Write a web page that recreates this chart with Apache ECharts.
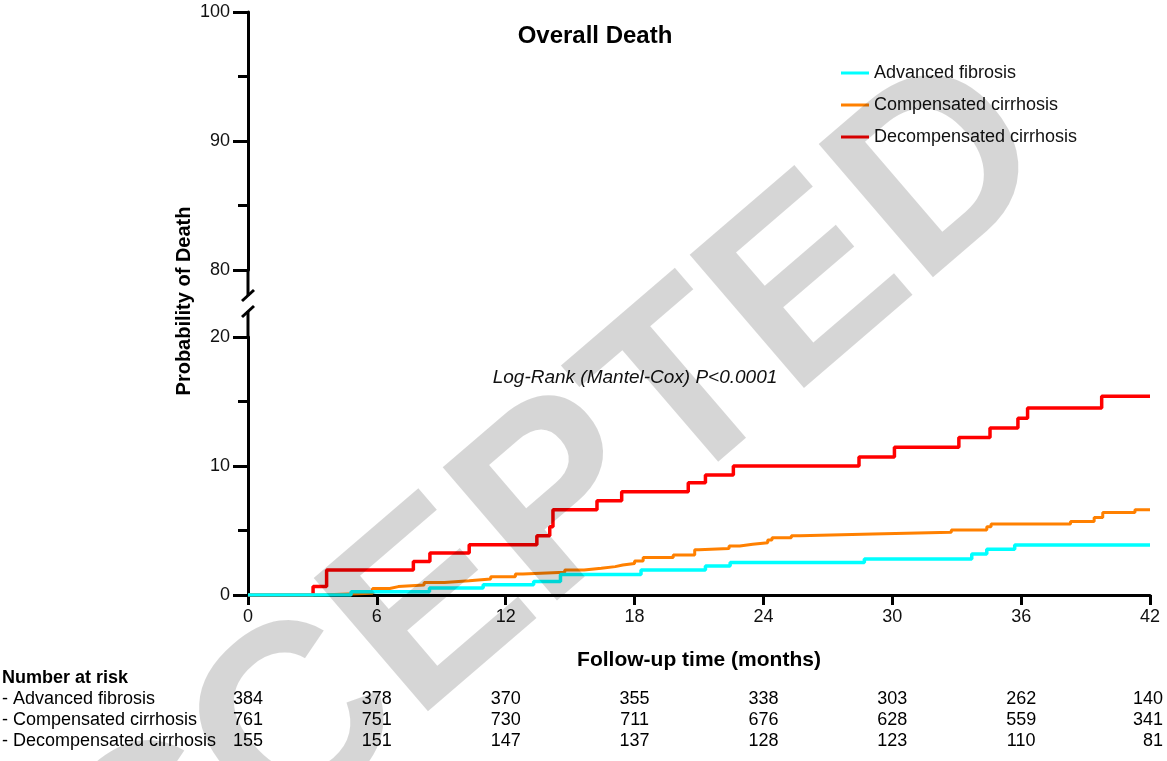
<!DOCTYPE html>
<html>
<head>
<meta charset="utf-8">
<script src="https://cdn.jsdelivr.net/npm/echarts@6/dist/echarts.min.js"></script>
<style>
  html, body { margin: 0; padding: 0; background: #fff; }
  #main { width: 1167px; height: 761px; }
</style>
</head>
<body>
<div id="main"></div>
<script>
// step points [month, cumulative probability of death %]
var advancedFibrosis = [
  [0, 0], [4.8, 0.26], [8.45, 0.55], [10.95, 0.8], [13.3, 1.05], [14.55, 1.58],
  [18.3, 1.94], [21.3, 2.25], [22.45, 2.52], [28.7, 2.8], [33.7, 3.18],
  [34.4, 3.54], [35.7, 3.88], [42, 3.88]
];
var compensatedCirrhosis = [
  [0, 0], [3.3, 0.13], [5.8, 0.5], [6.6, 0.65], [7.0, 0.78], [8.2, 0.96],
  [9.15, 1.1], [10.3, 1.24], [11.3, 1.42], [12.45, 1.63], [12.8, 1.76],
  [14.75, 1.94], [15.65, 2.07], [16.45, 2.2], [17.1, 2.33], [17.45, 2.45],
  [18.0, 2.63], [18.4, 2.9], [19.8, 3.1], [20.8, 3.5], [21.0, 3.6],
  [22.4, 3.8], [22.9, 3.93], [23.5, 4.05], [24.2, 4.26], [24.4, 4.44],
  [25.3, 4.6], [25.7, 4.73], [29.1, 4.86], [32.75, 5.04], [34.4, 5.3],
  [34.6, 5.5], [38.3, 5.7], [39.4, 6.0], [39.8, 6.4], [41.3, 6.6], [42, 6.6]
];
var decompensatedCirrhosis = [
  [0, 0], [3.03, 0.65], [3.66, 1.94], [7.7, 2.6], [8.47, 3.25], [10.3, 3.9],
  [13.45, 4.6], [14.05, 5.3], [14.2, 6.6], [16.25, 7.3], [17.4, 8.0],
  [20.5, 8.7], [21.3, 9.3], [22.6, 10.0], [28.45, 10.7], [30.1, 11.45],
  [33.1, 12.2], [34.55, 12.95], [35.85, 13.7], [36.3, 14.5], [39.75, 15.4],
  [42, 15.4]
];

var seriesNames = ['Advanced fibrosis', 'Compensated cirrhosis', 'Decompensated cirrhosis'];
var seriesColors = ['#00ffff', '#ff8000', '#ff0000'];

// number at risk table
var riskTimes = [0, 6, 12, 18, 24, 30, 36, 42];
var riskAdvanced = [384, 378, 370, 355, 338, 303, 262, 140];
var riskCompensated = [761, 751, 730, 711, 676, 628, 559, 341];
var riskDecompensated = [155, 151, 147, 137, 128, 123, 110, 81];

var FONT = '"Liberation Sans", Arial, Helvetica, sans-serif';
var L = 248, R = 1150;          // plot x range
var TOP1 = 12, BOT1 = 270;      // upper panel (80-100)
var TOP2 = 337, BOT2 = 595;     // lower panel (0-20)

var chart = echarts.init(document.getElementById('main'));

function yAxisOpt(idx, min, max) {
  return {
    type: 'value', gridIndex: idx, min: min, max: max, interval: 10,
    axisLine: { show: true, lineStyle: { color: '#000', width: 3 } },
    axisTick: { show: true, length: 15, lineStyle: { color: '#000', width: 3 } },
    minorTick: { show: true, splitNumber: 2, length: 10, lineStyle: { color: '#000', width: 3 } },
    splitLine: { show: false },
    axisLabel: { color: '#111', fontSize: 18, fontFamily: FONT, margin: 18 }
  };
}

function stepSeries(name, data, color, width) {
  return {
    name: name, type: 'line', step: 'end', xAxisIndex: 1, yAxisIndex: 1,
    data: data, symbol: 'none', color: color,
    lineStyle: { color: color, width: width },
    z: 5
  };
}

// number at risk texts
var tableGraphics = [];
var rows = [
  ['- Advanced fibrosis', riskAdvanced],
  ['- Compensated cirrhosis', riskCompensated],
  ['- Decompensated cirrhosis', riskDecompensated]
];
tableGraphics.push({
  type: 'text', x: 2, y: 678,
  style: { text: 'Number at risk', font: 'bold 18px ' + FONT, fill: '#000', textVerticalAlign: 'middle' }
});
rows.forEach(function (row, r) {
  var yy = 699 + r * 21;
  tableGraphics.push({
    type: 'text', x: 2, y: yy,
    style: { text: row[0], font: '18px ' + FONT, fill: '#000', textVerticalAlign: 'middle' }
  });
  row[1].forEach(function (n, i) {
    var xx = L + (R - L) * riskTimes[i] / 42;
    var last = i === riskTimes.length - 1;
    tableGraphics.push({
      type: 'text', x: last ? xx + 13 : xx, y: yy,
      style: { text: String(n), font: '18px ' + FONT, fill: '#000', textAlign: last ? 'right' : 'center', textVerticalAlign: 'middle' }
    });
  });
});

// broken axis marks
var breakGraphics = [
  { type: 'line', shape: { x1: L, y1: BOT1, x2: L, y2: 296 }, style: { stroke: '#000', lineWidth: 3 } },
  { type: 'line', shape: { x1: 242, y1: 301, x2: 254, y2: 290 }, style: { stroke: '#000', lineWidth: 3 } },
  { type: 'line', shape: { x1: L, y1: 311, x2: L, y2: TOP2 }, style: { stroke: '#000', lineWidth: 3 } },
  { type: 'line', shape: { x1: 242, y1: 317, x2: 254, y2: 306 }, style: { stroke: '#000', lineWidth: 3 } }
];

var option = {
  backgroundColor: '#fff',
  animation: false,
  textStyle: { fontFamily: FONT },
  legend: {
    orient: 'vertical', left: 836, top: 58,
    data: seriesNames,
    icon: 'rect', itemWidth: 28, itemHeight: 3, itemGap: 12,
    textStyle: { color: '#111', fontSize: 18, lineHeight: 20, fontFamily: FONT }
  },
  grid: [
    { left: L, right: 1167 - R, top: TOP1, height: BOT1 - TOP1, containLabel: false },
    { left: L, right: 1167 - R, top: TOP2, height: BOT2 - TOP2, containLabel: false }
  ],
  xAxis: [
    { type: 'value', gridIndex: 0, min: 0, max: 42, show: false },
    {
      type: 'value', gridIndex: 1, min: 0, max: 42, interval: 6,
      name: 'Follow-up time (months)', nameLocation: 'middle', nameGap: 55,
      nameTextStyle: { color: '#000', fontSize: 21, fontWeight: 'bold', fontFamily: FONT },
      axisLine: { show: true, lineStyle: { color: '#000', width: 3 } },
      axisTick: { show: true, length: 10, lineStyle: { color: '#000', width: 3 } },
      splitLine: { show: false },
      axisLabel: { color: '#111', fontSize: 18, fontFamily: FONT, margin: 13 }
    }
  ],
  yAxis: [yAxisOpt(0, 80, 100), yAxisOpt(1, 0, 20)],
  series: [
    stepSeries(seriesNames[2], decompensatedCirrhosis, seriesColors[2], 3.5),
    stepSeries(seriesNames[1], compensatedCirrhosis, seriesColors[1], 3),
    stepSeries(seriesNames[0], advancedFibrosis, seriesColors[0], 3.5)
  ],
  graphic: [
    {
      type: 'text', x: 595, y: 36,
      style: { text: 'Overall Death', font: 'bold 24px ' + FONT, fill: '#000', textAlign: 'center', textVerticalAlign: 'middle' }
    },
    {
      type: 'text', x: 184, y: 301, rotation: Math.PI / 2,
      style: { text: 'Probability of Death', font: 'bold 20px ' + FONT, fill: '#000', textAlign: 'center', textVerticalAlign: 'middle' }
    },
    {
      type: 'text', x: 635, y: 378,
      style: { text: 'Log-Rank (Mantel-Cox) P<0.0001', font: 'italic 19px ' + FONT, fill: '#111', textAlign: 'center', textVerticalAlign: 'middle' }
    }
  ].concat(breakGraphics).concat(tableGraphics).concat([
    {
      type: 'text', x: 482, y: 572, rotation: 0.71, z: 100,
      style: { text: 'ACCEPTED', font: 'bold 255px ' + FONT, fill: 'rgba(0,0,0,0.16)', textAlign: 'center', textVerticalAlign: 'middle' }
    }
  ])
};

chart.setOption(option);
</script>
</body>
</html>
